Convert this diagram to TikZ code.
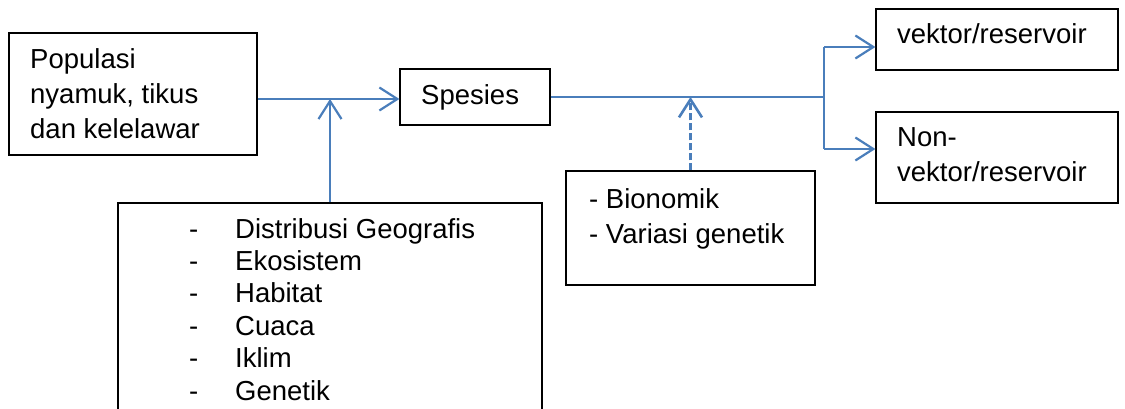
\documentclass[tikz,border=0pt]{standalone}
\usepackage{fontspec}
\setmainfont{Liberation Sans}
\usetikzlibrary{arrows.meta,calc}
\definecolor{lineblue}{HTML}{4A7EBB}
\tikzset{
  box/.style={draw=black,line width=1.2pt,inner sep=0pt},
  txt/.style={anchor=base west,inner sep=0pt,align=left,font=\fontsize{27.5}{35}\selectfont},
  link/.style={draw=lineblue,line width=2.2pt},
  arr/.style={link,-{Straight Barb[length=18pt,width=23pt]}},
}
\begin{document}
\begin{tikzpicture}[x=1pt,y=-1pt]
\useasboundingbox (0,0) rectangle (1125,409);

% boxes
\node[box,minimum width=248pt,minimum height=122pt] (pop) at (133,94) {};
\node[box,minimum width=150pt,minimum height=56pt] (sp) at (475,97) {};
\node[box,minimum width=242pt,minimum height=61pt] (vek) at (997,39.5) {};
\node[box,minimum width=242pt,minimum height=91pt] (non) at (997,157.5) {};
\node[box,minimum width=424pt,minimum height=218pt] (fak) at (330,312) {};
\node[box,minimum width=249pt,minimum height=114pt] (bio) at (690.5,228) {};

% texts (base = last line)
\node[txt] (poptxt) at (30,139) {Populasi\\nyamuk, tikus\\dan kelelawar};
\node[txt] (sptxt) at (421,105) {Spesies};
\node[txt] (vektxt) at (897,44) {vektor/reservoir};
\node[txt] (nontxt) at (897,182) {Non-\\vektor/reservoir};
\node[txt,font=\fontsize{27.5}{32.4}\selectfont] (faktxt) at (189,400)
  {\makebox[46pt][l]{-}Distribusi Geografis\\
   \makebox[46pt][l]{-}Ekosistem\\
   \makebox[46pt][l]{-}Habitat\\
   \makebox[46pt][l]{-}Cuaca\\
   \makebox[46pt][l]{-}Iklim\\
   \makebox[46pt][l]{-}Genetik};
\node[txt] (biotxt) at (589,243) {- Bionomik\\- Variasi genetik};

% connectors
\coordinate (j1) at (330,99);
\coordinate (split) at (825,97);
\coordinate (up) at (824,47);
\coordinate (dn) at (824,149);
\draw[arr] (pop.east |- j1) -- (sp.west |- j1);
\draw[arr] (fak.north) -- (fak.north |- j1);
\draw[link] (sp.east) -- (split);
\draw[link] (up) -- (dn);
\draw[arr] (up) -- (vek.west |- up);
\draw[arr] (dn) -- (non.west |- dn);
\draw[arr,line width=2.6pt,dash pattern=on 7pt off 3pt] (bio.north) -- (bio.north |- split);
\end{tikzpicture}
\end{document}
